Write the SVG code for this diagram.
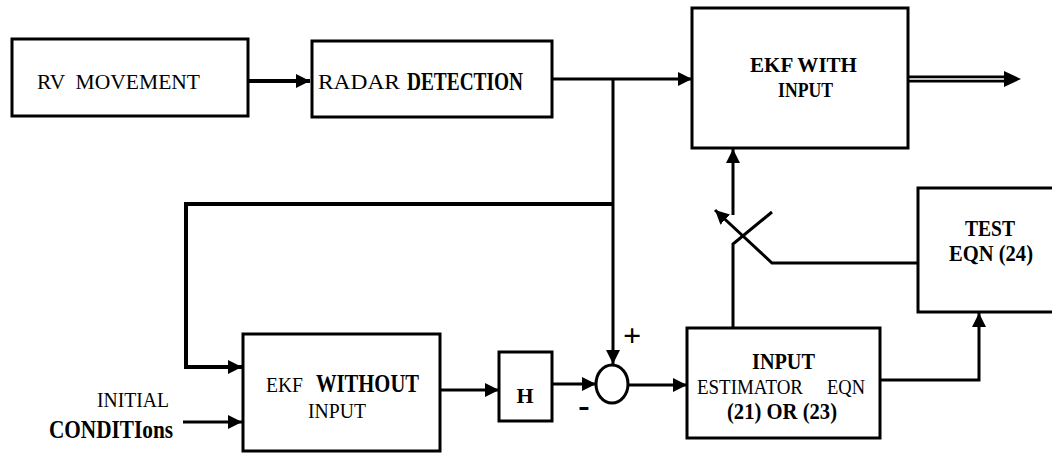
<svg xmlns="http://www.w3.org/2000/svg" width="1055" height="453" viewBox="0 0 1055 453">
<style>
.box{fill:none;stroke:#000;stroke-width:3}
.ln{fill:none;stroke:#000;stroke-width:3}
.thick{fill:none;stroke:#000;stroke-width:4}
</style>
<defs>
<marker id="ah" markerUnits="userSpaceOnUse" markerWidth="16" markerHeight="16" refX="14" refY="8" orient="auto">
<path d="M0,1 L14,8 L0,15 Z" fill="#000"/>
</marker>
</defs>
<rect width="1055" height="453" fill="#fff"/>

<g id="connectors">
<line class="thick" x1="248" y1="81" x2="310" y2="81" marker-end="url(#ah)"/>
<line class="ln" x1="552" y1="79" x2="692" y2="79" marker-end="url(#ah)"/>
<line class="ln" x1="613" y1="79" x2="613" y2="364" marker-end="url(#ah)"/>
<polyline class="thick" points="613,204 186,204 186,367 242,367" marker-end="url(#ah)"/>
<line class="ln" x1="183" y1="422" x2="242" y2="422" marker-end="url(#ah)"/>
<line class="ln" x1="441" y1="390" x2="499" y2="390" marker-end="url(#ah)"/>
<line class="ln" x1="552" y1="384" x2="596" y2="384" marker-end="url(#ah)"/>
<line class="ln" x1="629" y1="385" x2="687" y2="385" marker-end="url(#ah)"/>
<polyline class="ln" points="733,328 733,244 772,212"/>
<line class="ln" x1="733" y1="215" x2="733" y2="149" marker-end="url(#ah)"/>
<polyline class="ln" points="918,263 772,263 715,210" marker-end="url(#ah)"/>
<polyline class="ln" points="880,380 979,380 979,313" marker-end="url(#ah)"/>
<line x1="908" y1="79" x2="1008" y2="79" stroke="#000" stroke-width="7"/>
<line x1="908" y1="79" x2="1006" y2="79" stroke="#fff" stroke-width="1.5"/>
<path d="M1004,71 L1021,79 L1004,87 Z" fill="#000"/>
</g>

<g font-family="Liberation Serif, Times New Roman, serif" fill="#000">
<g id="rv-movement">
<rect class="box" x="12" y="39" width="236" height="77"/>
<text x="37" y="89" font-size="22" textLength="163" lengthAdjust="spacingAndGlyphs" xml:space="preserve">RV  MOVEMENT</text>
</g>

<g id="radar-detection">
<rect class="box" x="312" y="41" width="240" height="76"/>
<text x="318" y="89" font-size="22" textLength="82" lengthAdjust="spacingAndGlyphs">RADAR</text>
<text x="407" y="90" font-size="25" font-weight="bold" textLength="116" lengthAdjust="spacingAndGlyphs">DETECTION</text>
</g>

<g id="ekf-with-input">
<rect class="box" x="692" y="8" width="216" height="140"/>
<text x="750" y="72" font-size="20" font-weight="bold" textLength="107" lengthAdjust="spacingAndGlyphs">EKF WITH</text>
<text x="778" y="97" font-size="20" font-weight="bold" textLength="55" lengthAdjust="spacingAndGlyphs">INPUT</text>
</g>

<g id="initial-conditions">
<text x="97" y="407" font-size="22" textLength="72" lengthAdjust="spacingAndGlyphs">INITIAL</text>
<text x="49" y="438" font-size="26" font-weight="bold" textLength="124" lengthAdjust="spacingAndGlyphs">CONDITIons</text>
</g>

<g id="ekf-without-input">
<rect class="box" x="243" y="334" width="197" height="117"/>
<text x="266" y="392" font-size="22" textLength="37" lengthAdjust="spacingAndGlyphs">EKF</text>
<text x="316" y="392" font-size="25" font-weight="bold" textLength="103" lengthAdjust="spacingAndGlyphs">WITHOUT</text>
<text x="308" y="418" font-size="21" textLength="58" lengthAdjust="spacingAndGlyphs">INPUT</text>
</g>

<g id="h-block">
<rect class="box" x="499" y="352" width="53" height="69"/>
<text x="525" y="403" font-size="22" font-weight="bold" text-anchor="middle">H</text>
</g>

<g id="summing-junction">
<ellipse cx="612" cy="384" rx="16" ry="19" fill="none" stroke="#000" stroke-width="3"/>
<text x="632" y="346" font-size="32" font-weight="bold" text-anchor="middle">+</text>
<text x="584" y="417" font-size="34" font-weight="bold" text-anchor="middle">-</text>
</g>

<g id="input-estimator">
<rect class="box" x="687" y="328" width="193" height="110"/>
<text x="752" y="369" font-size="23" font-weight="bold" textLength="63" lengthAdjust="spacingAndGlyphs">INPUT</text>
<text x="697" y="394" font-size="21" textLength="106" lengthAdjust="spacingAndGlyphs">ESTIMATOR</text>
<text x="827" y="394" font-size="21" textLength="38" lengthAdjust="spacingAndGlyphs">EQN</text>
<text x="727" y="419" font-size="24" font-weight="bold" textLength="110" lengthAdjust="spacingAndGlyphs">(21) OR (23)</text>
</g>

<g id="test-eqn">
<polyline class="box" points="1052,188 918,188 918,312 1052,312"/>
<text x="965" y="236" font-size="23" font-weight="bold" textLength="50" lengthAdjust="spacingAndGlyphs">TEST</text>
<text x="949" y="261" font-size="23" font-weight="bold" textLength="84" lengthAdjust="spacingAndGlyphs">EQN (24)</text>
</g>
</g>
</svg>
